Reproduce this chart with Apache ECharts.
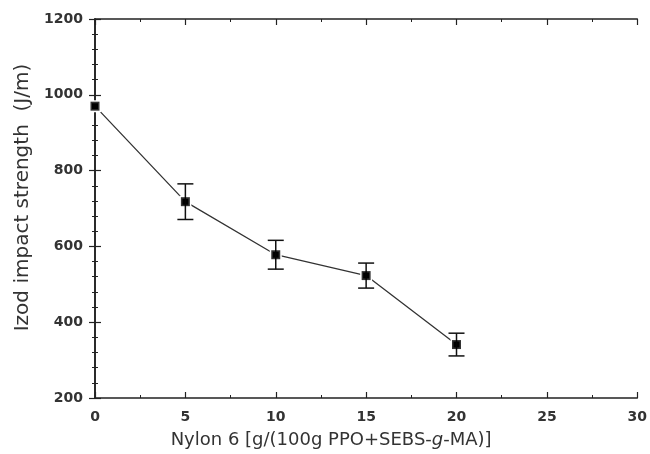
<!DOCTYPE html>
<html>
<head>
<meta charset="utf-8">
<script src="https://cdn.jsdelivr.net/npm/echarts@6/dist/echarts.min.js"></script>
<style>
html,body{margin:0;padding:0;background:#fff;}
#chart{width:650px;height:454px;}
</style>
</head>
<body>
<div id="chart"></div>
<script>
// Nylon 6 content (g per 100 g PPO + SEBS-g-MA)
const nylon = [0, 5, 10, 15, 20];
// Izod impact strength, J/m
const izod = [970, 718, 578, 523, 341];
// Error bar half-widths, J/m
const izodErr = [0, 47, 38, 33, 30];

const xTicks = [0, 5, 10, 15, 20, 25, 30];
const yTicks = [200, 400, 600, 800, 1000, 1200];

const font = '"DejaVu Sans", "Liberation Sans", Arial, sans-serif';
const ink = '#222';
const textInk = '#333';

const chart = echarts.init(document.getElementById('chart'), null, {renderer: 'canvas'});

const pts = nylon.map((x, i) => [x, izod[i]]);
const bars = nylon.map((x, i) => [x, izod[i] - izodErr[i], izod[i] + izodErr[i]]).filter((d, i) => izodErr[i] > 0);

function frameAxis(split) {
  return {
    axisLine: {show: true, lineStyle: {color: ink, width: 1.6}},
    axisTick: {show: true, inside: true, length: 6, lineStyle: {color: ink, width: 1.2}},
    minorTick: {show: true, splitNumber: split, length: 3, lineStyle: {color: ink, width: 1}},
    splitLine: {show: false},
    axisLabel: {show: false}
  };
}

const tickLabel = {
  show: true, color: textInk, fontFamily: font, fontSize: 14, fontWeight: 'bold',
  formatter: v => String(v)
};

chart.setOption({
  animation: false,
  backgroundColor: '#fff',
  grid: {left: 95, right: 10, top: 19, bottom: 56},
  xAxis: [
    Object.assign(frameAxis(2), {
      type: 'value', min: xTicks[0], max: xTicks[xTicks.length - 1], interval: 5,
      axisLabel: Object.assign({}, tickLabel, {margin: 12}),
      name: '{n|Nylon 6 [g/(100g PPO+SEBS-}{i|g}{n|-MA)]}',
      nameLocation: 'middle', nameGap: 33,
      nameTextStyle: {
        padding: [0, 70, 0, 0],
        rich: {
          n: {color: textInk, fontFamily: font, fontSize: 18},
          i: {color: textInk, fontFamily: font, fontSize: 18, fontStyle: 'italic'}
        }
      }
    }),
    Object.assign(frameAxis(2), {
      type: 'value', position: 'top', min: xTicks[0], max: xTicks[xTicks.length - 1], interval: 5
    })
  ],
  yAxis: [
    Object.assign(frameAxis(5), {
      type: 'value', min: yTicks[0], max: yTicks[yTicks.length - 1], interval: 200,
      axisLabel: Object.assign({}, tickLabel, {margin: 12}),
      name: 'Izod impact strength  (J/m)',
      nameLocation: 'middle', nameGap: 62, nameRotate: 90,
      nameTextStyle: {color: textInk, fontFamily: font, fontSize: 20, padding: [0, 0, 0, 22]}
    }),
    Object.assign(frameAxis(5), {
      type: 'value', position: 'right', min: yTicks[0], max: yTicks[yTicks.length - 1], interval: 200
    })
  ],
  series: [
    {
      type: 'line',
      data: pts,
      symbol: 'rect', symbolSize: 9,
      itemStyle: {color: '#000', borderColor: '#fff', borderWidth: 3},
      lineStyle: {color: '#333', width: 1.3},
      z: 2
    },
    {
      type: 'custom',
      data: bars,
      z: 3,
      renderItem: function (params, api) {
        const x = api.value(0);
        const lo = api.coord([x, api.value(1)]);
        const hi = api.coord([x, api.value(2)]);
        const hw = 8;
        const style = {stroke: '#111', lineWidth: 1.5, fill: null};
        return {
          type: 'group',
          children: [
            {type: 'line', shape: {x1: lo[0], y1: lo[1], x2: hi[0], y2: hi[1]}, style: style},
            {type: 'line', shape: {x1: lo[0] - hw, y1: lo[1], x2: lo[0] + hw, y2: lo[1]}, style: style},
            {type: 'line', shape: {x1: hi[0] - hw, y1: hi[1], x2: hi[0] + hw, y2: hi[1]}, style: style}
          ]
        };
      }
    },
    {
      type: 'scatter',
      data: pts,
      symbol: 'rect', symbolSize: 9,
      itemStyle: {color: '#000'},
      z: 4
    }
  ]
});
</script>
</body>
</html>
